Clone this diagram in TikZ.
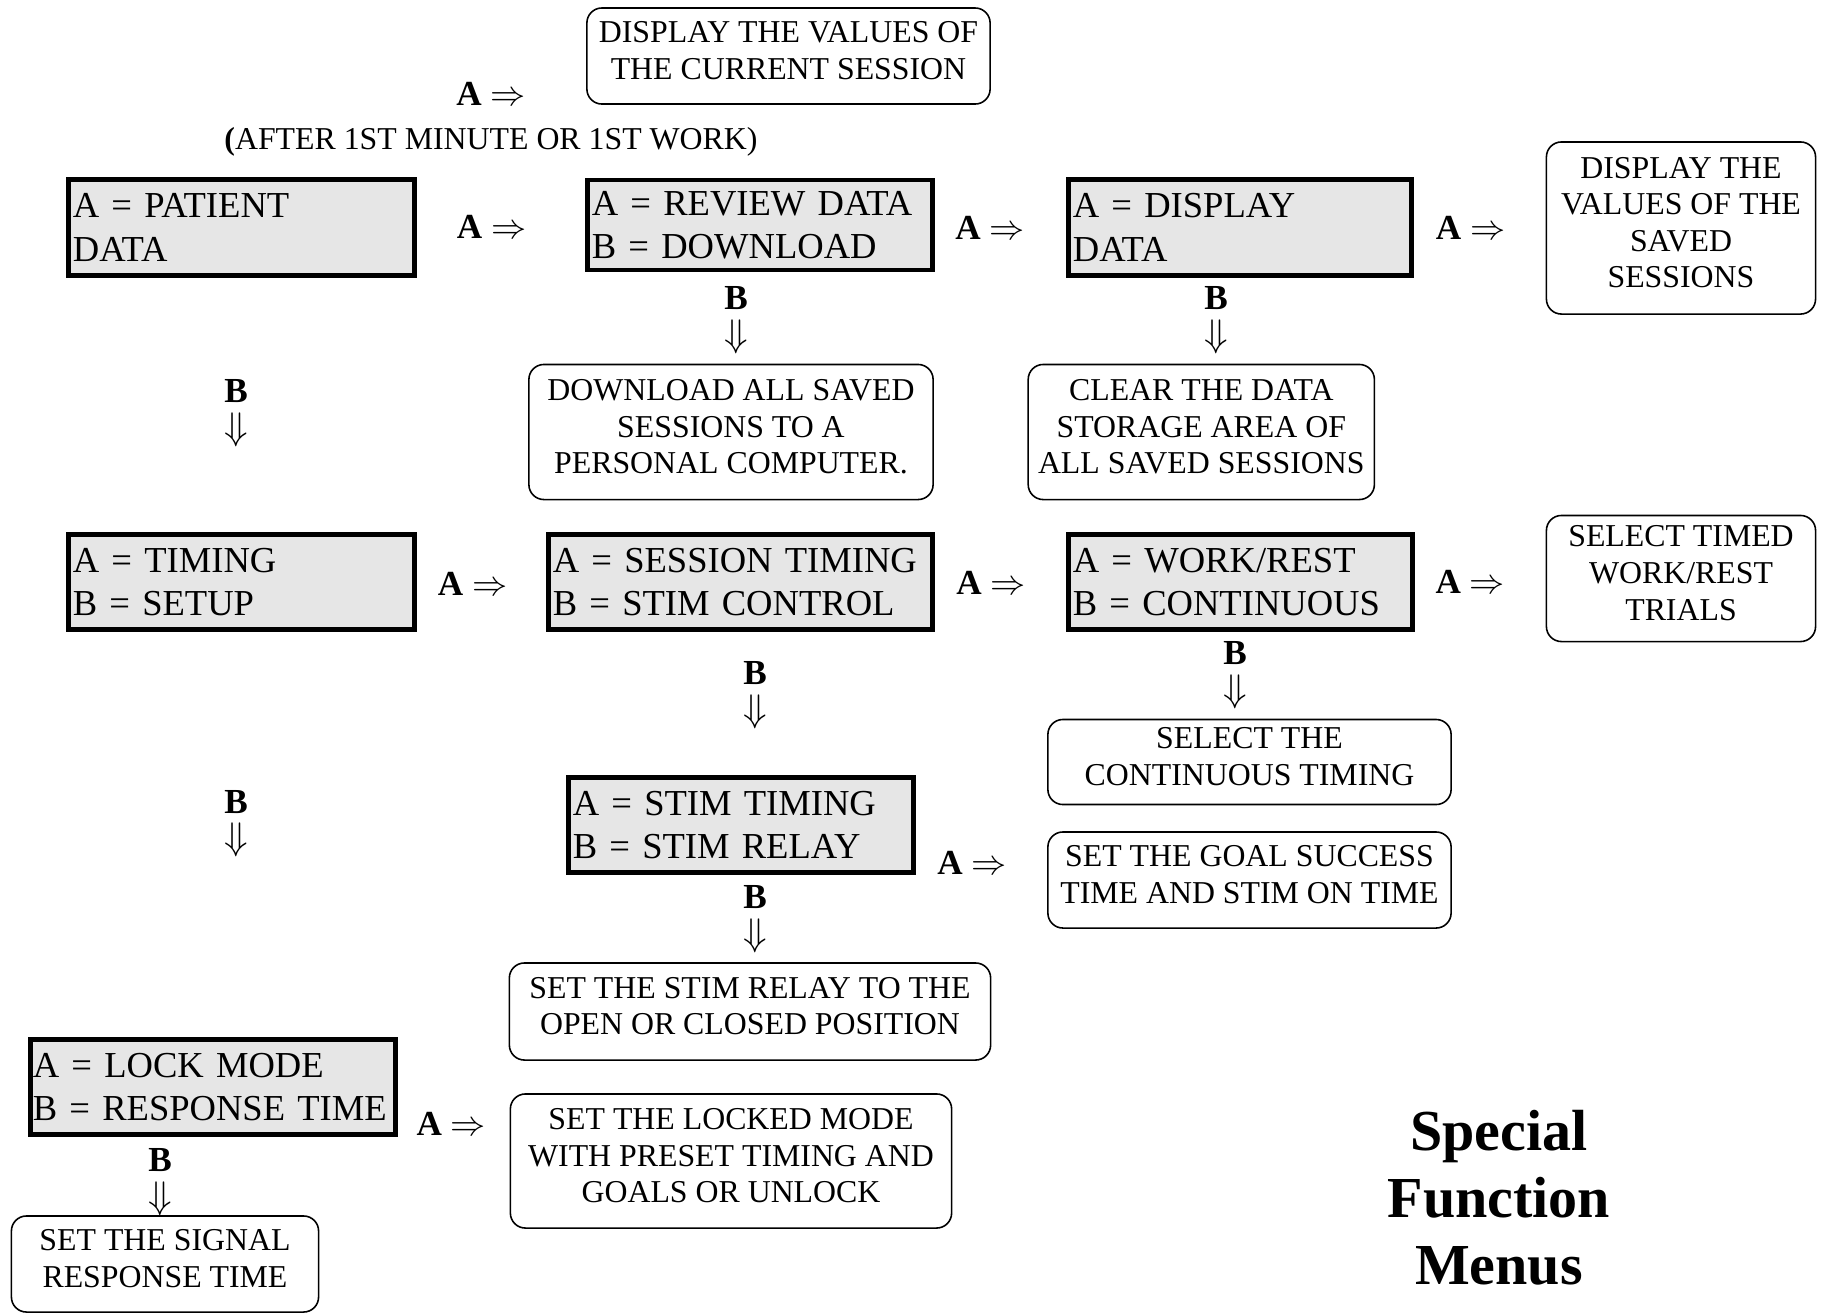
\documentclass[tikz,border=0pt]{standalone}
\usepackage{fontspec}
\setmainfont{Liberation Serif}
\definecolor{menufill}{RGB}{230,230,230}
\newcommand{\menufont}{\fontsize{10.4}{12.3}\selectfont}
\newcommand{\infofont}{\fontsize{9.05}{10.4}\selectfont}
\newcommand{\keyfont}{\fontsize{10}{10.4}\selectfont\bfseries}
\newcommand{\downkey}{B\\{\fontsize{11}{10.4}\selectfont$\Downarrow$}}

\begin{document}
\begin{tikzpicture}[x=0.01cm,y=-0.01cm,
  menubox/.style={draw, line width=1.4pt, fill=menufill, font=\menufont, align=left, inner xsep=0.045cm, inner ysep=0pt},
  infobox/.style={draw, line width=0.45pt, rounded corners=0.15cm, font=\infofont, align=center, inner sep=0pt, execute at end node=\strut},
  keylabel/.style={font=\keyfont, align=center, inner sep=0pt}]
  \useasboundingbox (0,0) rectangle (1826,1314);

  % Menus
  \node[menubox, text width=3.37cm, minimum height=0.96cm] (patient) at (241.5,227.5) {A = PATIENT\\DATA};
  \node[menubox, text width=3.36cm, minimum height=0.90cm] (review) at (760,225) {A = REVIEW DATA\\B = DOWNLOAD};
  \node[menubox, text width=3.34cm, minimum height=0.96cm] (display) at (1240,227.5) {A = DISPLAY\\DATA};
  \node[menubox, text width=3.37cm, minimum height=0.95cm] (timing) at (241.5,582) {A = TIMING\\B = SETUP};
  \node[menubox, text width=3.75cm, minimum height=0.95cm] (session) at (740.5,582) {A = SESSION TIMING\\B = STIM CONTROL};
  \node[menubox, text width=3.35cm, minimum height=0.95cm] (workrest) at (1240.5,582) {A = WORK/REST\\B = CONTINUOUS};
  \node[menubox, text width=3.36cm, minimum height=0.95cm] (stimtiming) at (741,825) {A = STIM TIMING\\B = STIM RELAY};
  \node[menubox, text width=3.60cm, inner xsep=0.025cm, minimum height=0.95cm] (lockmode) at (213,1087) {A = LOCK MODE\\B = RESPONSE TIME};

  % Actions
  \node[infobox, minimum width=4.03cm, minimum height=0.96cm] (current) at (788.5,56) {DISPLAY THE VALUES OF\\THE CURRENT SESSION};
  \node[infobox, minimum width=2.69cm, minimum height=1.72cm] (saved) at (1681,228) {DISPLAY THE\\VALUES OF THE\\SAVED\\SESSIONS};
  \node[infobox, minimum width=4.04cm, minimum height=1.35cm] (download) at (731,432) {DOWNLOAD ALL SAVED\\SESSIONS TO A\\PERSONAL COMPUTER.};
  \node[infobox, minimum width=3.46cm, minimum height=1.35cm] (clear) at (1201.3,432) {CLEAR THE DATA\\STORAGE AREA OF\\ALL SAVED SESSIONS};
  \node[infobox, minimum width=2.69cm, minimum height=1.26cm] (timed) at (1681,578.5) {SELECT TIMED\\WORK/REST\\TRIALS};
  \node[infobox, minimum width=4.03cm, minimum height=0.85cm] (continuous) at (1249.5,762) {SELECT THE\\CONTINUOUS TIMING};
  \node[infobox, minimum width=4.03cm, minimum height=0.96cm] (goal) at (1249.5,880) {SET THE GOAL SUCCESS\\TIME AND STIM ON TIME};
  \node[infobox, minimum width=4.81cm, minimum height=0.97cm] (relay) at (750,1011.5) {SET THE STIM RELAY TO THE\\OPEN OR CLOSED POSITION};
  \node[infobox, minimum width=4.41cm, minimum height=1.34cm] (locked) at (731,1161) {SET THE LOCKED MODE\\WITH PRESET TIMING AND\\GOALS OR UNLOCK};
  \node[infobox, minimum width=3.07cm, minimum height=0.96cm] (signal) at (165,1264) {SET THE SIGNAL\\RESPONSE TIME};

  % Keys
  \node[keylabel] (aCurrent) at (491,94) {A $\Rightarrow$};
  \node[font=\infofont, inner sep=0pt] (after) at (491,141.5) {\textbf{(}AFTER 1ST MINUTE OR 1ST WORK)};
  \node[keylabel] (aPatient) at (491.6,226.5) {A $\Rightarrow$};
  \node[keylabel] (aReview) at (990,228) {A $\Rightarrow$};
  \node[keylabel] (aDisplay) at (1470.5,228) {A $\Rightarrow$};
  \node[keylabel] (bReview) at (736,320) {\downkey};
  \node[keylabel] (bDisplay) at (1216,320) {\downkey};
  \node[keylabel] (bPatient) at (236,413) {\downkey};
  \node[keylabel] (aTiming) at (472.5,583.6) {A $\Rightarrow$};
  \node[keylabel] (aSession) at (991,583) {A $\Rightarrow$};
  \node[keylabel] (aWorkrest) at (1470.4,582.3) {A $\Rightarrow$};
  \node[keylabel] (bSession) at (755,695) {\downkey};
  \node[keylabel] (bWorkrest) at (1235,675.5) {\downkey};
  \node[keylabel] (bTiming) at (236,823.5) {\downkey};
  \node[keylabel] (aStim) at (972,862.7) {A $\Rightarrow$};
  \node[keylabel] (bStim) at (755,919) {\downkey};
  \node[keylabel] (aLock) at (451.4,1124) {A $\Rightarrow$};
  \node[keylabel] (bLock) at (160,1182) {\downkey};

  % Title
  \node[font=\fontsize{16.5}{19}\selectfont\bfseries, align=center, inner sep=0pt] (title) at (1499,1198) {Special\\Function\\Menus};
\end{tikzpicture}
\end{document}
